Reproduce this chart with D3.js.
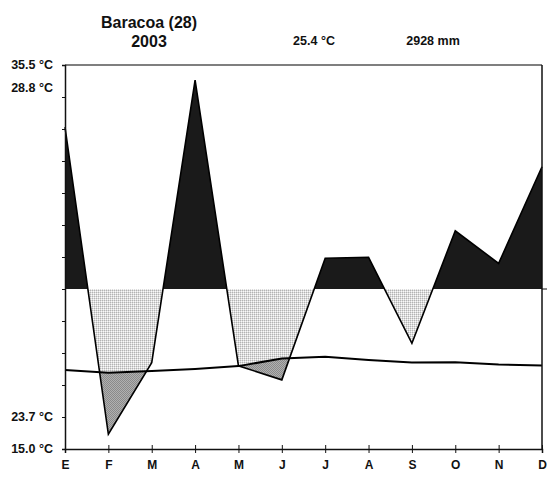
<!DOCTYPE html>
<html>
<head>
<meta charset="utf-8">
<script src="https://cdn.jsdelivr.net/npm/d3@7"></script>
<style>
  body { margin: 0; background: #fff; }
  text { font-family: Arial, "Liberation Sans", sans-serif; font-weight: bold; fill: #111; }
</style>
</head>
<body>
<svg width="547" height="479"></svg>
<script>
var months = ['E', 'F', 'M', 'A', 'M', 'J', 'J', 'A', 'S', 'O', 'N', 'D'];
// curves in axis units (one unit per tick step)
var precip = [10.06, 0.46, 2.70, 11.53, 2.60, 2.16, 5.96, 5.99, 3.30, 6.82, 5.80, 8.82];
var temp = [2.47, 2.38, 2.44, 2.50, 2.59, 2.83, 2.88, 2.78, 2.70, 2.71, 2.64, 2.61];
var baseline = 5;
var yLabels = ['35.5 \u00b0C', '28.8 \u00b0C', '23.7 \u00b0C', '15.0 \u00b0C'];
var yLabelAt = [12, 11.28, 1, 0];
var title = ['Baracoa (28)', '2003'];
var meanTemp = '25.4 \u00b0C';
var totalPrecip = '2928 mm';

var plotLeft = 65, plotRight = 542, plotTop = 65, plotBottom = 449;

var svg = d3.select('svg');
var x = d3.scalePoint().domain(d3.range(12)).range([plotLeft, plotRight]);
var y = d3.scaleLinear().domain([0, 12]).range([plotBottom, plotTop]);

var defs = svg.append('defs');
var dots = defs.append('pattern').attr('id', 'dots').attr('patternUnits', 'userSpaceOnUse')
  .attr('width', 2).attr('height', 2);
dots.append('rect').attr('width', 2).attr('height', 2).attr('fill', '#fafafa');
dots.append('rect').attr('width', 2).attr('height', 1).attr('fill', '#dcdcdc');
dots.append('rect').attr('width', 1).attr('height', 2).attr('fill', '#dcdcdc');
dots.append('rect').attr('width', 1).attr('height', 1).attr('fill', '#b4b4b4');
var grey = defs.append('pattern').attr('id', 'grey').attr('patternUnits', 'userSpaceOnUse')
  .attr('width', 2).attr('height', 2);
grey.append('rect').attr('width', 2).attr('height', 2).attr('fill', '#b0b0b0');
grey.append('rect').attr('width', 1).attr('height', 1).attr('fill', '#8a8a8a');
grey.append('rect').attr('x', 1).attr('y', 1).attr('width', 1).attr('height', 1).attr('fill', '#8a8a8a');

var rows = d3.range(12).map(function(i) { return { i: i, p: precip[i], t: temp[i] }; });

// clip regions
defs.append('clipPath').attr('id', 'above')
  .append('rect').attr('x', plotLeft).attr('y', plotTop)
  .attr('width', plotRight - plotLeft).attr('height', y(baseline) - plotTop);
defs.append('clipPath').attr('id', 'betweenBT')
  .append('path').attr('d', d3.area()
    .x(function(d) { return x(d.i); })
    .y0(y(baseline))
    .y1(function(d) { return y(d.t); })(rows));
defs.append('clipPath').attr('id', 'belowT')
  .append('path').attr('d', d3.area()
    .x(function(d) { return x(d.i); })
    .y0(plotBottom)
    .y1(function(d) { return y(d.t); })(rows));

var precipArea = d3.area()
  .x(function(d) { return x(d.i); })
  .y0(y(baseline))
  .y1(function(d) { return y(d.p); });

svg.append('path').attr('d', precipArea(rows))
  .attr('fill', '#1a1a1a').attr('clip-path', 'url(#above)');
svg.append('path').attr('d', precipArea(rows))
  .attr('fill', 'url(#dots)').attr('clip-path', 'url(#betweenBT)');
svg.append('path').attr('d', d3.area()
    .x(function(d) { return x(d.i); })
    .y0(function(d) { return y(d.t); })
    .y1(function(d) { return y(d.p); })(rows))
  .attr('fill', 'url(#grey)').attr('clip-path', 'url(#belowT)');

var line = d3.line().x(function(d) { return x(d.i); });
svg.append('path').attr('d', line.y(function(d) { return y(d.p); })(rows))
  .attr('fill', 'none').attr('stroke', '#000').attr('stroke-width', 1.6);
svg.append('path').attr('d', line.y(function(d) { return y(d.t); })(rows))
  .attr('fill', 'none').attr('stroke', '#000').attr('stroke-width', 2);

// frame
svg.append('line').attr('x1', plotLeft).attr('x2', plotRight).attr('y1', plotTop).attr('y2', plotTop)
  .attr('stroke', '#555').attr('stroke-width', 1.5);
svg.append('line').attr('x1', plotRight).attr('x2', plotRight).attr('y1', plotTop).attr('y2', plotBottom)
  .attr('stroke', '#111').attr('stroke-width', 1.5);
svg.append('line').attr('x1', plotRight).attr('x2', plotRight + 5)
  .attr('y1', y(baseline)).attr('y2', y(baseline))
  .attr('stroke', '#111').attr('stroke-width', 1);

var yAxis = svg.append('g').attr('transform', 'translate(' + plotLeft + ',0)')
  .call(d3.axisLeft(y).ticks(12).tickSize(3).tickFormat(''));
yAxis.select('.domain').attr('stroke', '#111').attr('stroke-width', 1.5);
yAxis.selectAll('.tick line').attr('x2', -3).attr('x1', 1).attr('stroke', '#111');

var xAxis = svg.append('g').attr('transform', 'translate(0,' + plotBottom + ')')
  .call(d3.axisBottom(x).tickSize(4).tickFormat(function(i) { return months[i]; }));
xAxis.select('.domain').attr('stroke', '#111').attr('stroke-width', 1.5);
xAxis.selectAll('.tick line').attr('y1', -4).attr('y2', 4).attr('stroke', '#111');
xAxis.selectAll('.tick text').attr('y', 11).attr('dy', '0.71em')
  .style('font-size', '12px').style('font-family', 'Arial, "Liberation Sans", sans-serif')
  .style('font-weight', 'bold').attr('fill', '#111');

svg.append('g').selectAll('text').data(yLabels).enter().append('text')
  .attr('x', plotLeft - 12)
  .attr('y', function(d, i) { return y(yLabelAt[i]); })
  .attr('dy', '0.35em')
  .attr('text-anchor', 'end')
  .style('font-size', '12.5px')
  .text(function(d) { return d; });

svg.append('g').selectAll('text').data(title).enter().append('text')
  .attr('x', 149)
  .attr('y', function(d, i) { return 28 + i * 19; })
  .attr('text-anchor', 'middle')
  .style('font-size', '16px')
  .text(function(d) { return d; });

svg.append('text').attr('x', 314).attr('y', 45).attr('text-anchor', 'middle')
  .style('font-size', '12.5px').text(meanTemp);
svg.append('text').attr('x', 433).attr('y', 45).attr('text-anchor', 'middle')
  .style('font-size', '12.5px').text(totalPrecip);
</script>
</body>
</html>
